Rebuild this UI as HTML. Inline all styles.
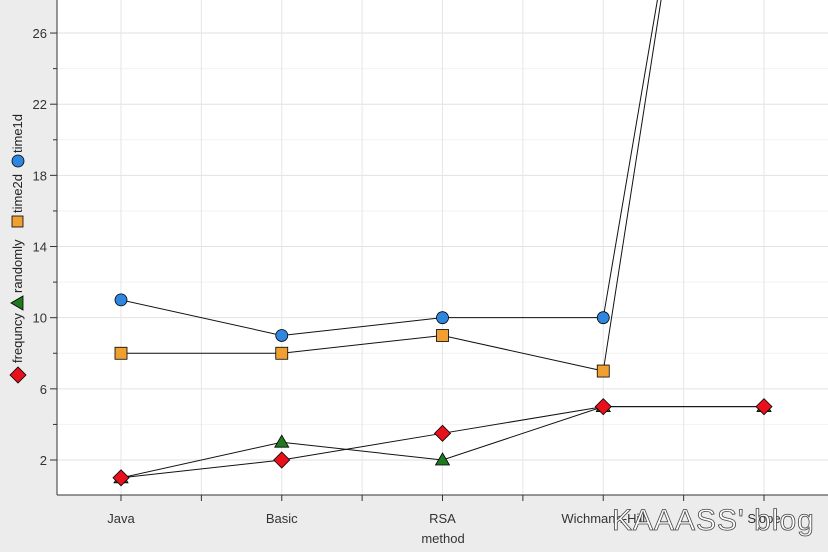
<!DOCTYPE html>
<html><head><meta charset="utf-8"><style>
body{margin:0;background:#ededed;font-family:"Liberation Sans",sans-serif}
</style></head><body>
<svg id="c" width="828" height="552" xmlns="http://www.w3.org/2000/svg" style="display:block">
<rect x="0" y="0" width="828" height="552" fill="#ececec"/>
<rect x="57" y="0" width="771" height="495" fill="#fff"/>
<g id="grid"></g><g id="axes"></g><g id="series"></g>
<text x="443" y="543" font-size="13" text-anchor="middle" fill="#333">method</text>
<g transform="translate(22,379) rotate(-90)">
<polygon points="4,-12 12,-4 4,4 -4,-4" fill="#e8101a" stroke="#000" stroke-width="0.8"/>
<text x="16" y="0" font-size="13" fill="#222">frequncy</text>
<polygon points="76,-11 83,1 69,1" fill="#1f7a1f" stroke="#000" stroke-width="0.8"/>
<text x="86" y="0" font-size="13" fill="#222">randomly</text>
<rect x="152" y="-10" width="11" height="11" fill="#f0a030" stroke="#000" stroke-width="0.8"/>
<text x="166" y="0" font-size="13" fill="#222">time2d</text>
<circle cx="218" cy="-4" r="6" fill="#2e86de" stroke="#000" stroke-width="0.8"/>
<text x="226" y="0" font-size="13" fill="#222">time1d</text>
</g>
<text x="612" y="530" font-size="30" fill="#fff" stroke="#444" stroke-width="0.8" letter-spacing="1">KAAASS' blog</text>
</svg>
<script>
const categories=["Java","Basic","RSA","Wichmann-Hill","Slope"];
const time1d=[11,9,10,10,63];
const time2d=[8,8,9,7,65];
const randomly=[1,3,2,5,5];
const frequncy=[1,2,3.5,5,5];
const yTicks=[2,6,10,14,18,22,26];
const NS="http://www.w3.org/2000/svg";
const xs=i=>121+i*160.75;
const ys=v=>460-(v-2)*17.79;
function mk(p,t,a){const e=document.createElementNS(NS,t);for(const k in a)e.setAttribute(k,a[k]);p.appendChild(e);return e;}
const grid=document.getElementById('grid'),axes=document.getElementById('axes'),ser=document.getElementById('series');
for(let v=0;v<=28;v+=2){const y=ys(v);if(y<0||y>495)continue;
 const g=mk(grid,'line',{x1:57,x2:828,y1:y,y2:y,stroke:yTicks.includes(v)?'#e2e2e2':'#f2f2f2','stroke-width':1});
 
 const t=mk(axes,'line',{x1:yTicks.includes(v)?50:53,x2:57,y1:y,y2:y,stroke:'#333'});
 }
yTicks.forEach(v=>{const t=mk(axes,'text',{x:47,y:ys(v)+5,'font-size':13,'text-anchor':'end',fill:'#333'});t.textContent=v;
 });
for(let k=-0.5;k<=categories.length;k+=0.5){const x=xs(k);if(x<57||x>828)continue;
 const g=mk(grid,'line',{x1:x,x2:x,y1:0,y2:495,stroke:'#e6e6e6'});
 
 const t=mk(axes,'line',{x1:x,x2:x,y1:495,y2:501,stroke:'#333'});
 }
categories.forEach((c,i)=>{const t=mk(axes,'text',{x:xs(i),y:523,'font-size':13,'text-anchor':'middle',fill:'#333'});t.textContent=c;
 });
let a=mk(axes,'line',{x1:57,x2:57,y1:0,y2:495,stroke:'#333'});
a=mk(axes,'line',{x1:57,x2:828,y1:495,y2:495,stroke:'#333'});
const clip=mk(document.getElementById('c'),'clipPath',{id:'cp'});mk(clip,'rect',{x:57,y:0,width:771,height:495});
ser.setAttribute('clip-path','url(#cp)');
function draw(data,name,marker){
 const pl=mk(ser,'polyline',{points:data.map((v,i)=>xs(i)+','+ys(v)).join(' '),fill:'none',stroke:'#111','stroke-width':1});
 
 data.forEach((v,i)=>{const x=xs(i),y=ys(v);let m;
  if(marker==='circle')m=mk(ser,'circle',{cx:x,cy:y,r:6,fill:'#2e86de'});
  else if(marker==='square')m=mk(ser,'rect',{x:x-6,y:y-6,width:12,height:12,fill:'#f0a030'});
  else if(marker==='tri')m=mk(ser,'polygon',{points:`${x},${y-7} ${x+7},${y+5} ${x-7},${y+5}`,fill:'#1f7a1f'});
  else m=mk(ser,'polygon',{points:`${x},${y-8} ${x+8},${y} ${x},${y+8} ${x-8},${y}`,fill:'#e8101a'});
  m.setAttribute('stroke','#000');m.setAttribute('stroke-width','0.8');
  });
}
draw(time1d,'time1d','circle');draw(time2d,'time2d','square');draw(randomly,'randomly','tri');draw(frequncy,'frequncy','diamond');
</script>
</body></html>
